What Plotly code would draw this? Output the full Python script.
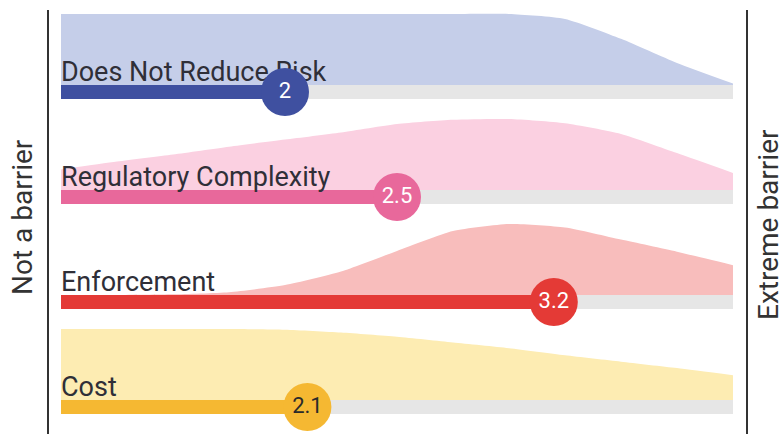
import plotly.graph_objects as go

# ---- data ----
categories = ["Does Not Reduce Risk", "Regulatory Complexity", "Enforcement", "Cost"]
scores = [2.0, 2.5, 3.2, 2.1]
score_labels = ["2", "2.5", "3.2", "2.1"]
scale_min, scale_max = 1, 4
density_x = [1.0, 1.25, 1.5, 1.75, 2.0, 2.25, 2.5, 2.75, 3.0, 3.25, 3.5, 3.75, 4.0]
density_risk = [1.0, 1.0, 1.0, 1.0, 1.0, 1.0, 1.0, 1.0, 1.0, 0.93, 0.65, 0.31, 0.02]
density_complexity = [0.29, 0.4, 0.5, 0.61, 0.71, 0.81, 0.93, 0.99, 1.0, 0.94, 0.79, 0.52, 0.24]
density_enforcement = [0.0, 0.0, 0.01, 0.04, 0.14, 0.33, 0.62, 0.9, 1.0, 0.95, 0.78, 0.61, 0.42]
density_cost = [1.0, 1.0, 1.0, 1.0, 0.99, 0.95, 0.89, 0.81, 0.73, 0.63, 0.54, 0.45, 0.35]
densities = [density_risk, density_complexity, density_enforcement, density_cost]
left_label = "Not a barrier"
right_label = "Extreme barrier"

# ---- style ----
bar_colors = ["#3f50a0", "#e8689b", "#e43a36", "#f5b832"]
area_colors = ["#c5cee9", "#fbd0e1", "#f8bdbc", "#fdecb2"]
label_text_colors = ["white", "white", "white", "#2a2a2a"]
track_color = "#e6e6e6"
text_color = "#2f2f38"

W, H = 784, 434
ROW_PX = 105.0
FIRST_ROW_PX = 92.0
PX_PER_UNIT = 224.0
X0_PX = 61.0
bar_half = 7.0 / ROW_PX
dens_h = 71.0 / ROW_PX

x_range = [scale_min - X0_PX / PX_PER_UNIT, scale_min + (W - X0_PX) / PX_PER_UNIT]
y_range = [(H - FIRST_ROW_PX) / ROW_PX, -FIRST_ROW_PX / ROW_PX]


def px_x(p):
    return p / W


def px_y(p):
    return 1 - p / H


fig = go.Figure()

# density areas
for i, dens in enumerate(densities):
    base = i - bar_half
    fig.add_trace(go.Scatter(x=density_x, y=[base] * len(density_x), mode="lines",
                             line=dict(width=0, color=area_colors[i]), hoverinfo="skip",
                             showlegend=False))
    fig.add_trace(go.Scatter(x=density_x, y=[base - dens_h * d for d in dens], mode="lines",
                             line=dict(width=0, color=area_colors[i], shape="spline", smoothing=0.6),
                             fill="tonexty", fillcolor=area_colors[i], hoverinfo="skip",
                             showlegend=False))

# tracks
fig.add_trace(go.Bar(y=list(range(len(categories))), x=[scale_max - scale_min] * len(categories),
                     base=scale_min, orientation="h", width=2 * bar_half,
                     marker=dict(color=track_color, line=dict(width=0)), hoverinfo="skip",
                     showlegend=False))
# value bars
fig.add_trace(go.Bar(y=list(range(len(categories))), x=[s - scale_min for s in scores],
                     base=scale_min, orientation="h", width=2 * bar_half,
                     marker=dict(color=bar_colors, line=dict(width=0)), hoverinfo="skip",
                     showlegend=False))

# category labels
fig.add_trace(go.Scatter(x=[scale_min] * len(categories),
                         y=[i - bar_half + 3.0 / ROW_PX for i in range(len(categories))],
                         mode="text", text=categories, textposition="top right",
                         textfont=dict(family="Roboto", size=27, color=text_color),
                         hoverinfo="skip", showlegend=False))

# score circles
fig.add_trace(go.Scatter(x=scores, y=list(range(len(categories))), mode="markers+text",
                         marker=dict(size=48, color=bar_colors, line=dict(width=0)),
                         text=score_labels, textposition="middle center",
                         textfont=dict(family="Roboto", size=22, color=label_text_colors),
                         hoverinfo="skip", showlegend=False))

fig.update_layout(
    width=W, height=H, margin=dict(l=0, r=0, t=0, b=0),
    paper_bgcolor="white", plot_bgcolor="white",
    barmode="overlay",
    xaxis=dict(range=x_range, visible=False, fixedrange=True),
    yaxis=dict(range=y_range, visible=False, fixedrange=True),
    shapes=[
        dict(type="line", xref="paper", yref="paper", x0=px_x(48), x1=px_x(48), y0=0, y1=px_y(10),
             line=dict(color="#333333", width=2)),
        dict(type="line", xref="paper", yref="paper", x0=px_x(747), x1=px_x(747), y0=0, y1=px_y(10),
             line=dict(color="#333333", width=2)),
    ],
    annotations=[
        dict(text=left_label, xref="paper", yref="paper", x=px_x(22), y=px_y(217),
             xanchor="center", yanchor="middle",
             showarrow=False, textangle=-90, font=dict(family="Roboto", size=28, color="#333333")),
        dict(text=right_label, xref="paper", yref="paper", x=px_x(768), y=px_y(225),
             xanchor="center", yanchor="middle",
             showarrow=False, textangle=-90, font=dict(family="Roboto", size=28, color="#333333")),
    ],
)

fig.write_html(
    "out.html",
    config={"displayModeBar": False},
    post_script="document.body.style.margin='0';document.body.style.overflow='hidden';",
)
